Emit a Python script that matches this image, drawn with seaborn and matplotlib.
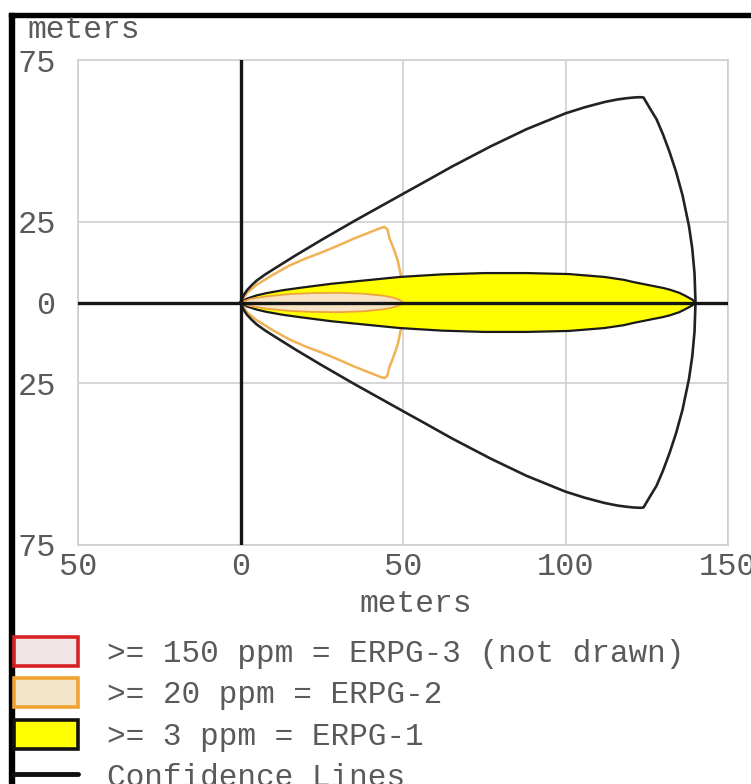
import matplotlib
matplotlib.use("Agg")
import matplotlib.pyplot as plt
import seaborn as sns
from matplotlib.patches import Patch, Rectangle
from matplotlib.lines import Line2D

# ticks
x_ticks = [-50, 0, 50, 100, 150]
x_tick_labels = ["50", "0", "50", "100", "150"]
y_ticks = [75, 25, 0, -25, -75]
y_tick_labels = ["75", "25", "0", "25", "75"]

# confidence lines (black outline), meters - upper half then lower half
conf_x = [0, 1, 2, 3.5, 5, 7.5, 10, 17, 25, 35, 45, 50, 57, 65, 77, 88, 100,
          106, 112, 116, 119, 121, 123, 124, 126, 128, 130, 132, 134, 136,
          138, 139, 139.7, 140,
          139.7, 139, 138, 136, 134, 132, 130, 128, 126, 124, 123, 121, 119,
          116, 112, 106, 100, 88, 77, 65, 57, 50, 45, 35, 25, 17, 10, 7.5, 5,
          3.5, 2, 1, 0]
conf_y = [0, 2.3, 3.8, 5.4, 6.8, 8.6, 10.2, 14.6, 19.4, 25.2, 30.8, 33.6, 37.5,
          42.0, 48.3, 53.6, 58.5, 60.4, 62.0, 62.8, 63.2, 63.4, 63.5, 63.4,
          60.0, 56.7, 52.0, 46.6, 40.5, 33.2, 23.6, 16.7, 9.0, 0,
          -9.0, -16.7, -23.6, -33.2, -40.5, -46.6, -52.0, -56.7, -60.0, -63.4,
          -63.5, -63.4, -63.2, -62.8, -62.0, -60.4, -58.5, -53.6, -48.3,
          -42.0, -37.5, -33.6, -30.8, -25.2, -19.4, -14.6, -10.2, -8.6, -6.8,
          -5.4, -3.8, -2.3, 0]

# ERPG-1 zone (yellow)
erpg1_x = [0, 2, 5, 8, 13, 18, 28, 40, 49, 62, 75, 88, 101, 112, 118, 121,
           124, 127, 130, 132, 135, 137, 139, 140,
           139, 137, 135, 132, 130, 127, 124, 121, 118, 112, 101, 88, 75, 62,
           49, 40, 28, 18, 13, 8, 5, 2, 0]
erpg1_y = [0, 1.2, 2.2, 2.9, 3.8, 4.5, 5.8, 7.0, 7.9, 8.7, 9.1, 9.1, 8.8, 7.9,
           7.0, 6.3, 5.7, 5.1, 4.5, 4.0, 3.0, 2.0, 0.9, 0,
           -0.9, -2.0, -3.0, -4.0, -4.5, -5.1, -5.7, -6.3, -7.0, -7.9, -8.8,
           -9.1, -9.1, -8.7, -7.9, -7.0, -5.8, -4.5, -3.8, -2.9, -2.2, -1.2, 0]

# ERPG-2 zone (beige)
erpg2_x = [0, 3, 8, 15, 22, 30, 38, 44, 47, 49, 50,
           49, 47, 44, 38, 30, 22, 15, 8, 3, 0]
erpg2_y = [0, 1.1, 1.9, 2.6, 2.9, 3.0, 2.7, 2.1, 1.5, 0.8, 0,
           -0.8, -1.5, -2.1, -2.7, -3.0, -2.9, -2.6, -1.9, -1.1, 0]

# ERPG-2 confidence wedge (orange)
wedge_x = [0, 2, 5, 10, 15, 20, 25, 30, 35, 40, 43, 44.3, 45.2, 45.8, 46.8,
           47.7, 48.5, 49, 49.5, 49.9, 50,
           49.9, 49.5, 49, 48.5, 47.7, 46.8, 45.8, 45.2, 44.3, 43, 40, 35, 30,
           25, 20, 15, 10, 5, 2, 0]
wedge_y = [0, 3.0, 5.5, 8.6, 11.4, 13.6, 15.5, 17.6, 19.8, 21.8, 23.0, 23.4,
           22.6, 20, 17.5, 15, 12.5, 10, 7.5, 3.5, 0,
           -3.5, -7.5, -10, -12.5, -15, -17.5, -20, -22.6, -23.4, -23.0, -21.8,
           -19.8, -17.6, -15.5, -13.6, -11.4, -8.6, -5.5, -3.0, 0]

legend_labels = [">= 150 ppm = ERPG-3 (not drawn)", ">= 20 ppm = ERPG-2",
                 ">= 3 ppm = ERPG-1", "Confidence Lines"]

sns.set_style("white")
plt.rcParams["font.family"] = ["Liberation Mono", "DejaVu Sans Mono"]
text_color = "#5a5a5a"

fig = plt.figure(figsize=(7.51, 7.84), dpi=100)
ax = fig.add_axes([78 / 751, 1 - 545 / 784, 650 / 751, 485 / 784])

ax.fill(wedge_x, wedge_y, facecolor="none", edgecolor="#F0B254", lw=1.8,
        joinstyle="round", zorder=3)
ax.fill(erpg1_x, erpg1_y, facecolor="#FFFF00", edgecolor="#1a1a1a", lw=1.6,
        zorder=4)
ax.fill(erpg2_x, erpg2_y, facecolor="#F7E4C6", edgecolor="#EDA440", lw=1.3,
        zorder=5)
sns.lineplot(x=conf_x, y=conf_y, sort=False, estimator=None, color="#222222",
             lw=1.9, ax=ax, zorder=6)

ax.axhline(0, color="#151515", lw=2.4, zorder=7)
ax.axvline(0, color="#151515", lw=2.4, zorder=7)

ax.set_xlim(-50, 150)
ax.set_ylim(-75, 75)
ax.set_xticks(x_ticks)
ax.set_xticklabels(x_tick_labels)
ax.set_yticks(y_ticks)
ax.set_yticklabels(y_tick_labels)
ax.tick_params(axis="both", length=0, labelsize=23, labelcolor=text_color)
ax.tick_params(axis="x", pad=5)
ax.tick_params(axis="y", pad=16)
ax.grid(True, color="#cfcfcf", lw=1.2)
for s in ax.spines.values():
    s.set_color("#cfcfcf")
    s.set_linewidth(1.2)

fig.text(27 / 751, 1 - 30 / 784, "meters", fontsize=22.5, color=text_color,
         ha="left", va="center")
fig.text(416 / 751, 1 - 604 / 784, "meters", fontsize=22.5, color=text_color,
         ha="center", va="center")

handles = [
    Patch(facecolor="#F1E6E6", edgecolor="#D62222", lw=2.6),
    Patch(facecolor="#F3E3C8", edgecolor="#F0A232", lw=2.6),
    Patch(facecolor="#FFFF00", edgecolor="#111111", lw=2.6),
    Line2D([0], [0], color="#111111", lw=3.5),
]
fig.legend(handles, legend_labels, loc="upper left",
           bbox_to_anchor=(14 / 751, 1 - 637 / 784), frameon=False,
           fontsize=22.4, labelcolor=text_color, handlelength=2.05,
           handleheight=1.05, handletextpad=0.95, labelspacing=0.3,
           borderpad=0, borderaxespad=0)

# window border (top and left)
fig.patches.append(Rectangle((9 / 751, 1 - 17 / 784), 742 / 751, 4 / 784,
                             transform=fig.transFigure, color="black"))
fig.patches.append(Rectangle((9 / 751, 0), 5 / 751, 1 - 13 / 784,
                             transform=fig.transFigure, color="black"))

fig.savefig("out.png", dpi=100)
